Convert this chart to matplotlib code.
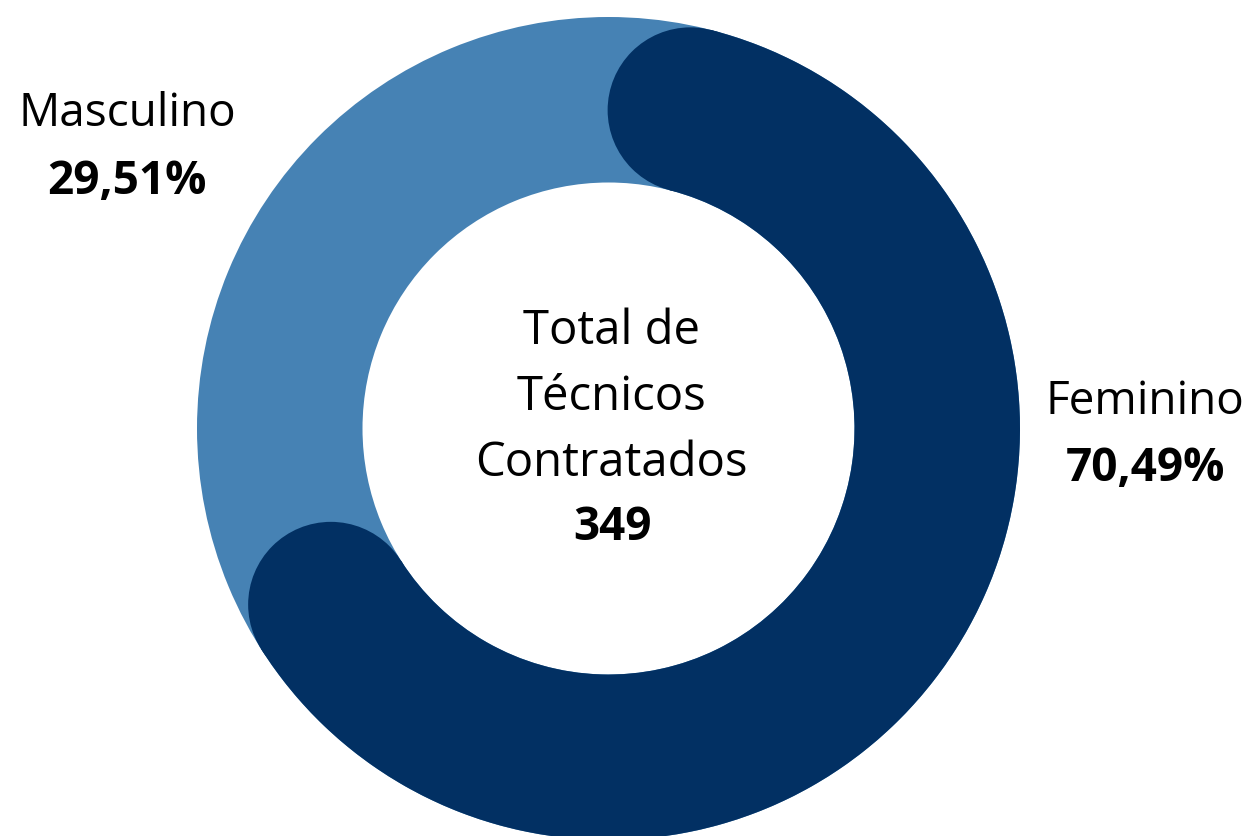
import numpy as np
import matplotlib.pyplot as plt
from matplotlib.patches import Wedge, Circle

# data
categorias = ['Feminino', 'Masculino']
percentuais = [70.49, 29.51]
cores = ['#023063', '#4682b4']
total = 349
titulo_centro = ['Total de', 'Técnicos', 'Contratados']

plt.rcParams['font.family'] = ['Open Sans', 'DejaVu Sans']

W, H = 1255, 837
cx, cy, R = 608.5, 429.5, 411.5   # pixel geometry of the ring
r_in = 246.0 / R
largura = 1 - r_in
r_mid = 1 - largura / 2

fig = plt.figure(figsize=(W / 100, H / 100), dpi=100)
ax = fig.add_axes([0, 0, 1, 1])
ax.set_xlim(-cx / R, (W - cx) / R)
ax.set_ylim(-(H - cy) / R, cy / R)
ax.set_aspect('equal')
ax.axis('off')

def px(x, y):
	return (x - cx) / R, (cy - y) / R

# full light ring (Masculino) underneath
ax.add_patch(Wedge((0, 0), 1, 0, 360, width=largura, facecolor=cores[1], edgecolor='none'))

# Feminino arc with round caps, clockwise from top
graus = 360 * percentuais[0] / 100.
cap = np.degrees((largura / 2) / r_mid)
a0, a1 = cap, graus - cap * 1.12
ax.add_patch(Wedge((0, 0), 1, 90 - a1, 90 - a0, width=largura, facecolor=cores[0], edgecolor='none'))
for a in [a0, a1]:
	t = np.radians(90 - a)
	ax.add_patch(Circle((r_mid * np.cos(t), r_mid * np.sin(t)), largura / 2, facecolor=cores[0], edgecolor='none'))

fmt = lambda v: ('%.2f%%' % v).replace('.', ',')

# labels
fs = 33
x, y = px(127, 114); ax.text(x, y, categorias[1], fontsize=fs, ha='center', va='center')
x, y = px(127, 182); ax.text(x, y, fmt(percentuais[1]), fontsize=fs, fontweight='bold', ha='center', va='center')
x, y = px(1145, 402); ax.text(x, y, categorias[0], fontsize=fs, ha='center', va='center')
x, y = px(1145, 469); ax.text(x, y, fmt(percentuais[0]), fontsize=fs, fontweight='bold', ha='center', va='center')

for i, linha in enumerate(titulo_centro):
	x, y = px(611, 331 + 66 * i)
	ax.text(x, y, linha, fontsize=34, ha='center', va='center')
x, y = px(612, 528)
ax.text(x, y, str(total), fontsize=fs, fontweight='bold', ha='center', va='center')

plt.savefig('out.png', dpi=100)
